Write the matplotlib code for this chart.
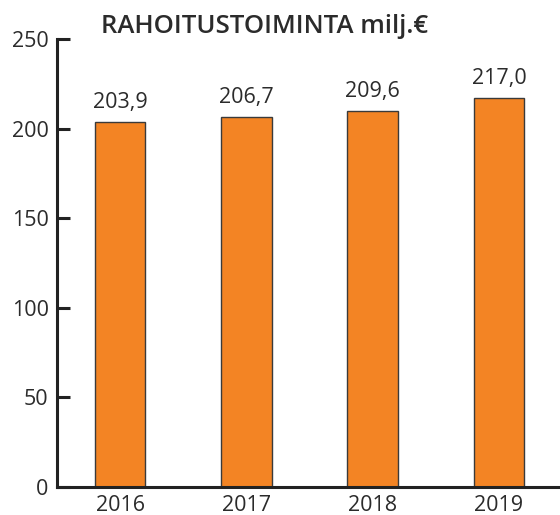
import matplotlib.pyplot as plt

years = ['2016', '2017', '2018', '2019']
values = [203.9, 206.7, 209.6, 217.0]
value_labels = ['203,9', '206,7', '209,6', '217,0']
yticks = [0, 50, 100, 150, 200, 250]

plt.rcParams['font.family'] = ['Open Sans', 'DejaVu Sans']
txt = '#2b2b2b'

fig = plt.figure(figsize=(5.6, 5.15), dpi=100)
# axes box placed to match the reference pixel grid
ax = fig.add_axes([57 / 560, 28 / 515, 503 / 560, 448 / 515])

x = range(len(years))
ax.bar(x, values, width=0.4, color='#f38424', edgecolor='#3a3a3a', linewidth=1.0)

for xi, v, lab in zip(x, values, value_labels):
    ax.text(xi, v + 5, lab, ha='center', va='bottom', fontsize=15.5, color=txt)

ax.set_xlim(-0.5, 3.484)
ax.set_ylim(0, 250)
ax.set_xticks(list(x))
ax.set_xticklabels(years)
ax.set_yticks(yticks)

ax.spines['top'].set_visible(False)
ax.spines['right'].set_visible(False)
for s in ['left', 'bottom']:
    ax.spines[s].set_linewidth(2.2)
    ax.spines[s].set_color('#222222')

ax.tick_params(axis='y', direction='in', length=9, width=2.2, colors='#222222',
               labelsize=15.5, labelcolor=txt, pad=6)
ax.tick_params(axis='x', length=0, labelsize=15.5, labelcolor=txt, pad=6)

fig.text(0.473, 0.948, 'RAHOITUSTOIMINTA milj.€', ha='center', va='center',
         fontsize=18.5, fontweight='semibold', color=txt)

fig.savefig('out.png', dpi=100)
